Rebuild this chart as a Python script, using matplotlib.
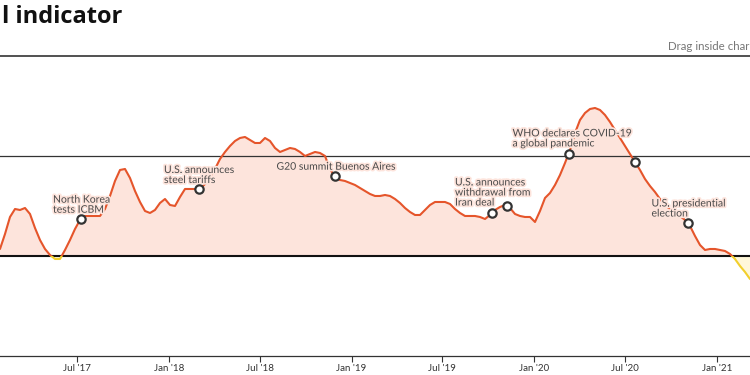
import numpy as np
import pandas as pd
import matplotlib
matplotlib.use('Agg')
import matplotlib.pyplot as plt
import matplotlib.dates as mdates
import matplotlib.patheffects as pe
import matplotlib.transforms as mtransforms
from matplotlib.patches import Rectangle

# ---- data (10-day spacing) ----
start_date = '2017-01-28'
values = [
    0.07, 0.22, 0.39, 0.47, 0.46, 0.48, 0.42, 0.28, 0.16, 0.07,
    0.01, -0.03, -0.03, 0.06, 0.16, 0.27, 0.36, 0.40, 0.40, 0.40,
    0.40, 0.47, 0.60, 0.75, 0.86, 0.87, 0.78, 0.65, 0.54, 0.45,
    0.43, 0.46, 0.53, 0.57, 0.51, 0.50, 0.59, 0.67, 0.67, 0.67,
    0.67, 0.72, 0.79, 0.87, 0.97, 1.04, 1.10, 1.15, 1.18, 1.19,
    1.16, 1.13, 1.13, 1.18, 1.15, 1.08, 1.04, 1.06, 1.08, 1.07,
    1.04, 1.00, 1.02, 1.04, 1.03, 1.00, 0.87, 0.79, 0.76, 0.75,
    0.73, 0.71, 0.68, 0.65, 0.62, 0.60, 0.60, 0.61, 0.60, 0.57,
    0.53, 0.48, 0.44, 0.41, 0.41, 0.46, 0.51, 0.54, 0.54, 0.54,
    0.52, 0.47, 0.43, 0.40, 0.40, 0.40, 0.39, 0.37, 0.41, 0.46,
    0.49, 0.51, 0.48, 0.42, 0.40, 0.39, 0.39, 0.34, 0.45, 0.58,
    0.63, 0.71, 0.81, 0.93, 1.06, 1.23, 1.36, 1.43, 1.47, 1.48,
    1.46, 1.41, 1.34, 1.26, 1.18, 1.10, 1.02, 0.94, 0.86, 0.77,
    0.70, 0.64, 0.57, 0.51, 0.47, 0.43, 0.40, 0.36, 0.30, 0.20,
    0.11, 0.06, 0.07, 0.07, 0.06, 0.05, 0.02, -0.03, -0.10, -0.16,
    -0.23,
]
event_dates = ['2017-07-09', '2018-03-02', '2018-11-28', '2019-10-09',
               '2019-11-08', '2020-03-10', '2020-07-21', '2020-11-03']
event_labels = ['North Korea\ntests ICBM', 'U.S. announces\nsteel tariffs',
                'G20 summit Buenos Aires',
                'U.S. announces\nwithdrawal from\nIran deal', '',
                'WHO declares COVID-19\na global pandemic', '',
                'U.S. presidential\nelection']
label_offsets = [(-28, 14), (-35, 13.5), (-58, 9), (-37, 20), (0, 0),
                 (-56, 15), (0, 0), (-36, 14)]
tick_format = "%b '%y"

dates = pd.date_range(start_date, periods=len(values), freq='10D')
v = np.array(values)

plt.rcParams['font.family'] = ['Lato', 'DejaVu Sans']

fig = plt.figure(figsize=(7.5, 3.75), dpi=100)
ax = fig.add_axes([0, 0.0507, 1, 0.8])
ax.set_xlim(dates[0], dates[-1])
ax.set_ylim(-1, 2)

# fills
ax.fill_between(dates, 0, v, where=v >= 0, interpolate=True,
                color='#fde4dc', lw=0, zorder=1)
ax.fill_between(dates, 0, v, where=v <= 0, interpolate=True,
                color='#fff7d9', lw=0, zorder=1)

# reference lines
ax.axhline(1, color='#333333', lw=0.9, zorder=2)
ax.axhline(0, color='#111111', lw=1.5, zorder=2)

blend = mtransforms.blended_transform_factory(ax.transAxes, ax.transData)
l_pos, = ax.plot(dates, v, color='#e5552b', lw=1.5, zorder=3,
                 solid_capstyle='round')
l_pos.set_clip_path(Rectangle((0, 0), 1, 5, transform=blend))
l_neg, = ax.plot(dates, v, color='#f2cf2c', lw=1.5, zorder=3,
                 solid_capstyle='round')
l_neg.set_clip_path(Rectangle((0, -5), 1, 5, transform=blend))

# events
dnum = mdates.date2num(dates)
ev = pd.to_datetime(event_dates)
ev_num = mdates.date2num(ev)
ev_val = np.interp(ev_num, dnum, v)
for d, val, lab, off in zip(ev, ev_val, event_labels, label_offsets):
    if lab:
        ax.annotate(lab, xy=(d, val), xytext=off, textcoords='offset pixels',
                    ha='left', va='center', fontsize=7.5, color='#4a4a4a',
                    linespacing=1.15, zorder=4,
                    path_effects=[pe.withStroke(linewidth=2.5, foreground='#fde4dc')])
ax.plot(ev, ev_val, 'o', ms=6, mfc='white', mec='#333333', mew=1.6,
        zorder=5, ls='none')

# axes styling
for s in ['left', 'right']:
    ax.spines[s].set_visible(False)
ax.spines['top'].set_color('#222222')
ax.spines['top'].set_linewidth(1.1)
ax.spines['bottom'].set_color('#333333')
ax.spines['bottom'].set_linewidth(0.9)
ax.set_yticks([])
ax.xaxis.set_major_locator(mdates.MonthLocator(bymonth=[1, 7]))
ax.xaxis.set_major_formatter(mdates.DateFormatter(tick_format))
ax.tick_params(axis='x', length=4, width=0.8, color='#333333',
               labelsize=7, labelcolor='#333333', pad=2)

fig.text(0.002, 1 - 23 / 375, 'l indicator', fontsize=17, fontweight='bold',
         family=['Open Sans', 'DejaVu Sans'],
         color='#111111', ha='left', va='baseline')
fig.text(749 / 750, 1 - 47 / 375, 'Drag inside char', fontsize=8.3,
         color='#777777', ha='right', va='center')

fig.savefig('out.png', dpi=100)
